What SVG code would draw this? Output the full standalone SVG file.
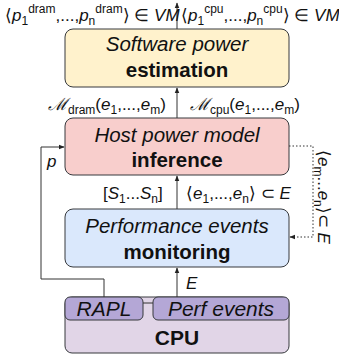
<svg xmlns="http://www.w3.org/2000/svg" width="339" height="360" viewBox="0 0 339 360">
<defs>
<marker id="ah" viewBox="0 0 10 10" refX="9" refY="5" markerWidth="6" markerHeight="6" orient="auto" markerUnits="userSpaceOnUse">
<path d="M0,1 L10,5 L0,9 Z" fill="#222"/>
</marker>
<style>
text{font-family:"Liberation Sans",Arial,sans-serif;fill:#111}
.box{stroke:#36393d;stroke-width:1}
.t{font-size:20.5px;text-anchor:middle}
.u{font-size:21px;text-anchor:middle}
.i{font-style:italic}
.b{font-weight:bold}
.l{font-size:17px}
.s{font-size:12px}
.c{fill:none;stroke:#333;stroke-width:1}
</style>
</defs>
<rect width="339" height="360" fill="#fff"/>
<g id="software">
<rect class="box" x="65" y="29" width="224" height="58" rx="8" fill="#fff2cc"/>
<text class="t i" x="177" y="51">Software power</text>
<text class="t b" x="177" y="77">estimation</text>
</g>
<g id="host">
<rect class="box" x="65" y="118" width="224" height="57" rx="8" fill="#f8cecc"/>
<text class="t i" x="177" y="142">Host power model</text>
<text class="t b" x="177" y="167">inference</text>
</g>
<g id="perf">
<rect class="box" x="65" y="209" width="224" height="58" rx="8" fill="#dae8fc"/>
<text class="t i" x="177" y="233">Performance events</text>
<text class="t b" x="177" y="259">monitoring</text>
</g>
<g id="cpu">
<rect class="box" x="65" y="297" width="224" height="56" rx="7" fill="#e1d5e7"/>
<text class="u b" x="177" y="345">CPU</text>
</g>
<g id="rapl">
<rect class="box" x="65" y="297" width="78" height="23" rx="5" fill="#b4a7d6"/>
<text class="u i" x="104" y="316">RAPL</text>
</g>
<g id="perfevents">
<rect class="box" x="153" y="297" width="136" height="23" rx="5" fill="#b4a7d6"/>
<text class="u i" x="221" y="316">Perf events</text>
</g>
<g id="connectors">
<line class="c" x1="177" y1="29" x2="177" y2="3" marker-end="url(#ah)"/>
<line class="c" x1="177" y1="118" x2="177" y2="88" marker-end="url(#ah)"/>
<line class="c" x1="177" y1="209" x2="177" y2="176" marker-end="url(#ah)"/>
<line class="c" x1="177" y1="297" x2="177" y2="268" marker-end="url(#ah)"/>
<line class="c" x1="143" y1="303" x2="153" y2="303"/>
<polyline class="c" points="104,297 104,279 41,279 41,147 64,147" marker-end="url(#ah)"/>
<polyline class="c" points="289,146 313,146 313,237 290,237" stroke-dasharray="1.5,2" marker-end="url(#ah)"/>
</g>
<g id="labels">
<text class="l" x="5" y="21">⟨<tspan class="i">p</tspan><tspan class="s" dy="4">1</tspan><tspan class="s" dy="-12">dram</tspan><tspan dy="8">,...,</tspan><tspan class="i">p</tspan><tspan class="s" dy="4">n</tspan><tspan class="s" dy="-12">dram</tspan><tspan dy="8">⟩ ∈ </tspan><tspan class="i">VM</tspan></text>
<text class="l" x="181" y="21">⟨<tspan class="i">p</tspan><tspan class="s" dy="4">1</tspan><tspan class="s" dy="-12">cpu</tspan><tspan dy="8">,...,</tspan><tspan class="i">p</tspan><tspan class="s" dy="4">n</tspan><tspan class="s" dy="-12">cpu</tspan><tspan dy="8">⟩ ∈ </tspan><tspan class="i">VM</tspan></text>
<text class="l" x="48" y="110"><tspan class="i">ℳ</tspan><tspan class="s" dy="4">dram</tspan><tspan dy="-4">(</tspan><tspan class="i">e</tspan><tspan class="s" dy="4">1</tspan><tspan dy="-4">,...,</tspan><tspan class="i">e</tspan><tspan class="s" dy="4">m</tspan><tspan dy="-4">)</tspan></text>
<text class="l" x="190" y="110"><tspan class="i">ℳ</tspan><tspan class="s" dy="4">cpu</tspan><tspan dy="-4">(</tspan><tspan class="i">e</tspan><tspan class="s" dy="4">1</tspan><tspan dy="-4">,...,</tspan><tspan class="i">e</tspan><tspan class="s" dy="4">m</tspan><tspan dy="-4">)</tspan></text>
<text class="l" x="103" y="199">[<tspan class="i">S</tspan><tspan class="s" dy="4">1</tspan><tspan dy="-4">...</tspan><tspan class="i">S</tspan><tspan class="s" dy="4">n</tspan><tspan dy="-4">]</tspan></text>
<text class="l" x="186" y="199">⟨<tspan class="i">e</tspan><tspan class="s" dy="4">1</tspan><tspan dy="-4">,...,</tspan><tspan class="i">e</tspan><tspan class="s" dy="4">n</tspan><tspan dy="-4">⟩ ⊂ </tspan><tspan class="i">E</tspan></text>
<text class="l i" x="47" y="167">p</text>
<text class="l i" x="186" y="289">E</text>
<text class="l" transform="translate(318,150) rotate(90)" x="0" y="0">⟨<tspan class="i">e</tspan><tspan class="s" dy="4">m</tspan><tspan dy="-4">...</tspan><tspan class="i">e</tspan><tspan class="s" dy="4">n</tspan><tspan dy="-4">⟩⊂ </tspan><tspan class="i">E</tspan></text>
</g>
</svg>
